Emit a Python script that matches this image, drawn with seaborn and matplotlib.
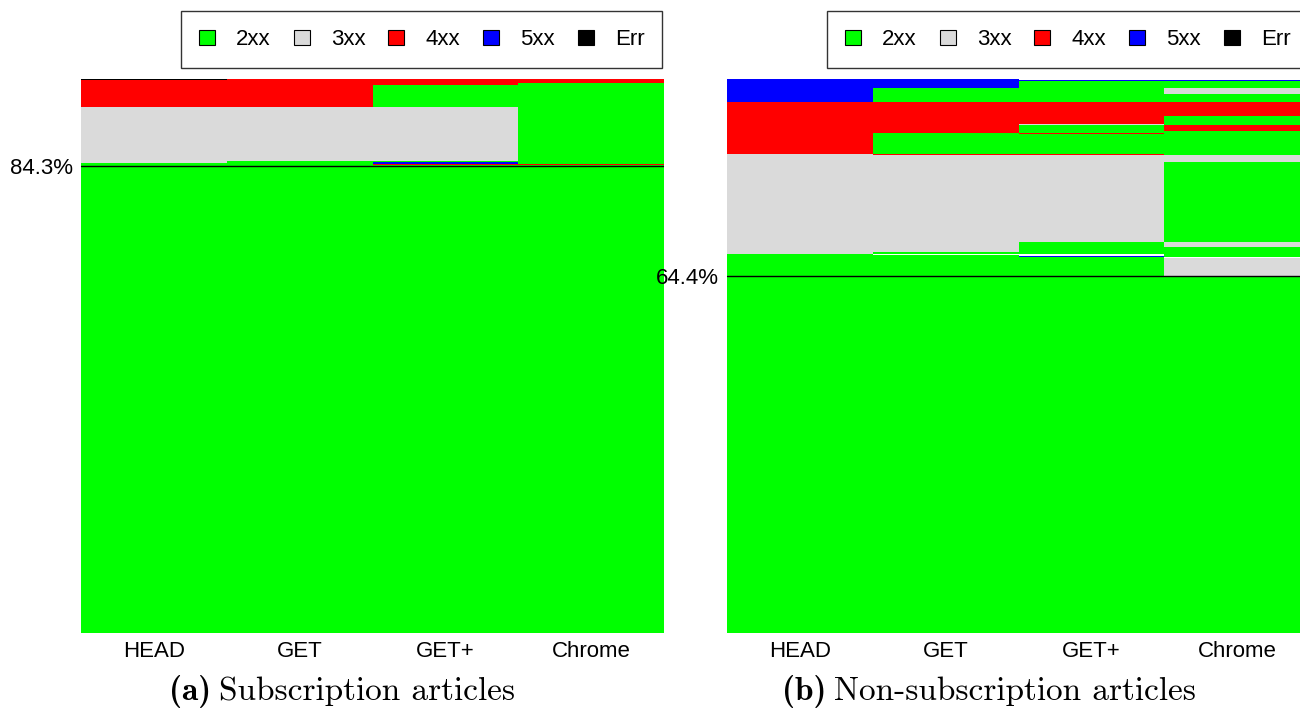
import numpy as np
import pandas as pd
import matplotlib
matplotlib.use("Agg")
import matplotlib.pyplot as plt
from matplotlib.patches import Patch
import seaborn as sns

# Request methods (columns) and response classes
methods = ["HEAD", "GET", "GET+", "Chrome"]
status_levels = ["2xx", "3xx", "4xx", "5xx", "Err", "none"]
status_colors = ["#00ff00", "#dadada", "#ff0000", "#0000ff", "#000000", "#ffffff"]

# (a) Subscription articles: segment classes and shares (%), bottom to top
sub_head_status = ["2xx", "3xx", "4xx", "Err"]
sub_head_share = [84.84, 10.11, 4.92, 0.13]
sub_get_status = ["2xx", "3xx", "4xx"]
sub_get_share = [85.20, 9.75, 5.05]
sub_getp_status = ["2xx", "4xx", "5xx", "2xx", "3xx", "2xx", "4xx"]
sub_getp_share = [84.40, 0.30, 0.30, 0.20, 9.75, 3.97, 1.08]
sub_chrome_status = ["2xx", "4xx", "2xx", "4xx"]
sub_chrome_share = [84.45, 0.25, 14.58, 0.72]
sub_all_2xx = 84.3

# (b) Non-subscription articles
non_head_status = ["2xx", "3xx", "4xx", "5xx"]
non_head_share = [68.41, 18.05, 9.39, 4.15]
non_get_status = ["2xx", "none", "2xx", "3xx", "4xx", "2xx", "4xx", "2xx", "5xx"]
non_get_share = [68.18, 0.29, 0.30, 17.51, 0.18, 3.79, 5.60, 2.53, 1.62]
non_getp_status = ["2xx", "5xx", "none", "2xx", "3xx", "4xx", "2xx", "4xx",
                   "2xx", "3xx", "4xx", "2xx", "4xx", "5xx"]
non_getp_share = [67.87, 0.23, 0.31, 2.17, 15.70, 0.18, 3.61, 0.18,
                  1.45, 0.18, 3.97, 3.73, 0.12, 0.18]
non_chrome_status = ["2xx", "3xx", "none", "2xx", "3xx", "2xx", "3xx", "2xx",
                     "4xx", "2xx", "4xx", "2xx", "3xx", "2xx", "4xx", "5xx"]
non_chrome_share = [64.50, 3.24, 0.13, 1.81, 0.90, 14.44, 1.26, 4.33,
                    1.09, 1.62, 2.53, 1.44, 1.09, 1.20, 0.12, 0.18]
non_all_2xx = 64.4

sns.set_theme(style="white")
plt.rcParams["font.family"] = ["Liberation Sans", "DejaVu Sans"]
plt.rcParams["text.color"] = "black"
plt.rcParams["xtick.color"] = "black"
plt.rcParams["ytick.color"] = "black"

palette = dict(zip(status_levels, status_colors))


def draw_panel(ax, segments, all_2xx):
    rows = []
    for m in methods:
        st, sh = segments[m]
        tops = np.cumsum(sh)
        for k, (s, t) in enumerate(zip(st, tops)):
            rows.append(dict(method=m, layer=k, status=s, top=t))
    df = pd.DataFrame(rows)
    # cumulative bars, highest layer first so lower layers paint over it
    for k in sorted(df["layer"].unique(), reverse=True):
        sns.barplot(data=df[df["layer"] == k], x="method", y="top",
                    hue="status", order=methods, hue_order=status_levels,
                    palette=palette, dodge=False, width=1.0, saturation=1,
                    errorbar=None, legend=False, linewidth=0,
                    antialiased=False, ax=ax)
    ax.axhline(all_2xx, color="black", lw=1.0, zorder=5)
    ax.set_xlim(-0.5, 3.5)
    ax.set_ylim(0, 100)
    ax.set_yticks([all_2xx], [f"{all_2xx}%"])
    ax.set_xlabel("")
    ax.set_ylabel("")
    for sp in ax.spines.values():
        sp.set_visible(False)
    ax.tick_params(axis="both", length=0, labelsize=16, pad=6,
                   labelcolor="black")
    handles = [Patch(facecolor=c, edgecolor="black", linewidth=0.8, label=s)
               for s, c in zip(status_levels[:5], status_colors[:5])]
    leg = ax.legend(handles=handles, ncol=5, loc="lower right",
                    bbox_to_anchor=(0.997, 1.02), borderaxespad=0,
                    frameon=True, fancybox=False, edgecolor="#333333",
                    framealpha=1, fontsize=16, handlelength=0.72,
                    handleheight=0.7, handletextpad=0.95,
                    columnspacing=1.03, borderpad=0.8, labelcolor="black")
    leg.get_frame().set_linewidth(1.0)


fig = plt.figure(figsize=(13, 7.08), dpi=100)
W, H = 1300, 708
ax_a = fig.add_axes([81 / W, 75 / H, 583 / W, 554 / H])
ax_b = fig.add_axes([727 / W, 75 / H, 583 / W, 554 / H])

draw_panel(ax_a, {
    "HEAD": (sub_head_status, sub_head_share),
    "GET": (sub_get_status, sub_get_share),
    "GET+": (sub_getp_status, sub_getp_share),
    "Chrome": (sub_chrome_status, sub_chrome_share),
}, sub_all_2xx)

draw_panel(ax_b, {
    "HEAD": (non_head_status, non_head_share),
    "GET": (non_get_status, non_get_share),
    "GET+": (non_getp_status, non_getp_share),
    "Chrome": (non_chrome_status, non_chrome_share),
}, non_all_2xx)

# sub-captions: bold label followed by regular title
cap_y = 1 - 700 / H
for lab_x, lab, title in [(211, "(a)", "Subscription articles"),
                          (826, "(b)", "Non-subscription articles")]:
    fig.text(lab_x / W, cap_y, lab, fontfamily="cmb10", fontsize=24,
             ha="right", va="baseline", color="black")
    fig.text((lab_x + 8) / W, cap_y, title, fontfamily="cmr10", fontsize=24,
             ha="left", va="baseline", color="black")

fig.savefig("out.png", dpi=100)
